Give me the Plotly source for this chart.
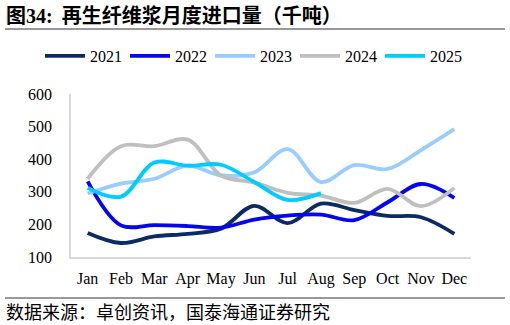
import plotly.graph_objects as go

months = ["Jan", "Feb", "Mar", "Apr", "May", "Jun", "Jul", "Aug", "Sep", "Oct", "Nov", "Dec"]
y2021 = [174, 143, 163, 171, 187, 257, 204, 264, 244, 226, 222, 171]
y2022 = [332, 197, 198, 195, 190, 215, 227, 230, 213, 268, 324, 281]
y2023 = [295, 325, 340, 380, 350, 360, 431, 330, 382, 370, 428, 492]
y2024 = [340, 440, 440, 460, 350, 328, 297, 288, 266, 309, 256, 312]
y2025 = [312, 285, 390, 380, 383, 330, 275, 296]

series = [
    ("2021", y2021, "#0B2A66"),
    ("2022", y2022, "#0505F0"),
    ("2023", y2023, "#99CCFF"),
    ("2024", y2024, "#BFBFBF"),
    ("2025", y2025, "#00CCFF"),
]

fig = go.Figure()
for name, vals, color in series:
    fig.add_trace(go.Scatter(
        x=months[:len(vals)], y=vals, name=name, mode="lines",
        line=dict(color=color, width=3.8, shape="spline", smoothing=1.0),
    ))

W, H = 510, 325
L, R, T, B = 71, 39, 94, 68
pw, ph = W - L - R, H - T - B

def px(x):
    return (x - L) / pw

def py(y):
    return (H - B - y) / ph

fig.update_layout(
    width=W, height=H,
    margin=dict(l=L, r=R, t=T, b=B),
    paper_bgcolor="white", plot_bgcolor="white",
    font=dict(family="Liberation Serif", size=16, color="black"),
    showlegend=True,
    legend=dict(
        orientation="h", xref="paper", yref="paper",
        x=px(40), xanchor="left", y=py(56), yanchor="middle",
        font=dict(family="Liberation Serif", size=16, color="black"),
        entrywidth=30, entrywidthmode="pixels",
        itemwidth=40, tracegroupgap=0,
        bgcolor="rgba(0,0,0,0)",
    ),
    xaxis=dict(
        type="category", range=[-0.5, 11.5], showgrid=False,
        showline=True, linecolor="#D9D9D9", linewidth=1.5,
        ticks="", ticklabelstandoff=6,
        tickfont=dict(family="Liberation Serif", size=16, color="black"),
        zeroline=False, fixedrange=True,
    ),
    yaxis=dict(
        range=[100, 600], dtick=100, tick0=100, showgrid=False,
        showline=True, linecolor="#D9D9D9", linewidth=1.5,
        ticks="", ticklabelstandoff=14,
        tickfont=dict(family="Liberation Serif", size=16, color="black"),
        zeroline=False, fixedrange=True,
    ),
    shapes=[
        dict(type="line", xref="paper", yref="paper",
             x0=px(5), x1=px(505), y0=py(29), y1=py(29),
             line=dict(color="#333333", width=1)),
        dict(type="line", xref="paper", yref="paper",
             x0=px(5), x1=px(505), y0=py(298), y1=py(298),
             line=dict(color="#333333", width=1)),
    ],
    annotations=[
        dict(text="<b>图<span style='font-family:Liberation Serif'>34:</span>  再生纤维浆月度进口量（千吨）</b>",
             xref="paper", yref="paper",
             x=px(4), y=py(15), xanchor="left", yanchor="middle", showarrow=False,
             font=dict(family="Noto Sans CJK SC", size=20, color="black")),
        dict(text="数据来源：卓创资讯，国泰海通证券研究", xref="paper", yref="paper",
             x=px(4), y=py(311), xanchor="left", yanchor="middle", showarrow=False,
             font=dict(family="Noto Sans CJK SC", size=18, color="black")),
    ],
)

fig.write_html("out.html")
